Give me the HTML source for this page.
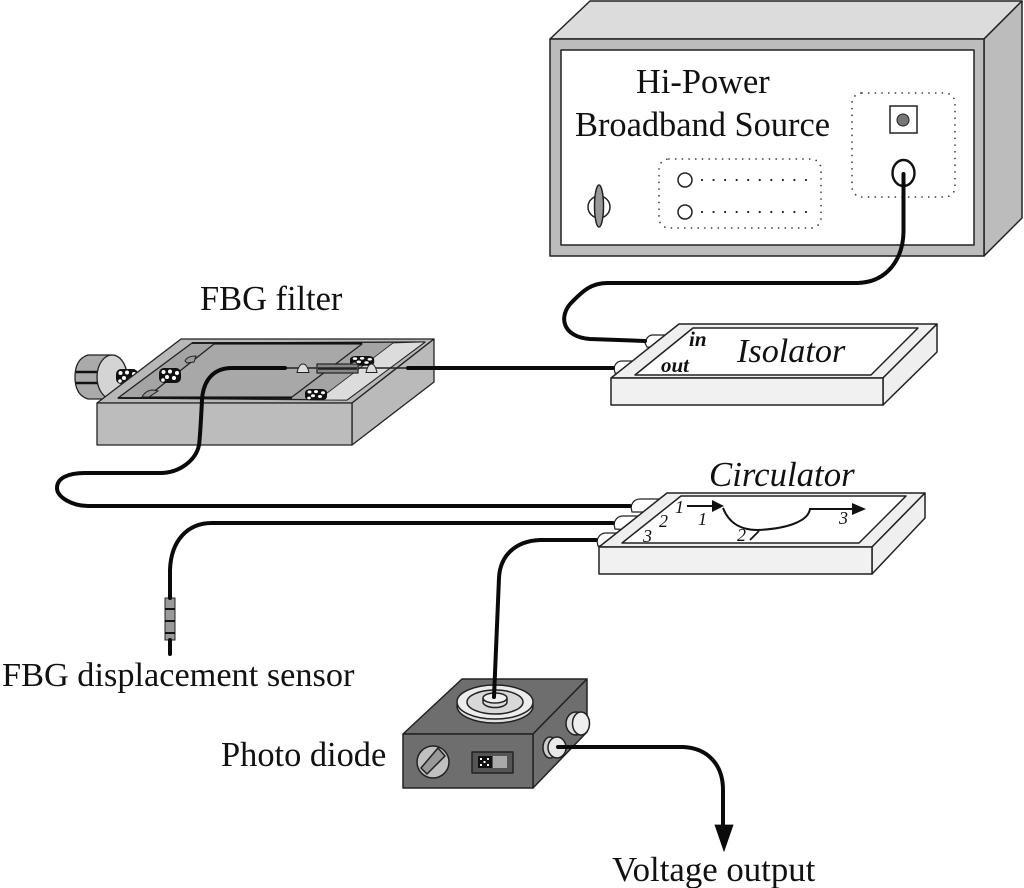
<!DOCTYPE html>
<html>
<head>
<meta charset="utf-8">
<style>
html,body{margin:0;padding:0;background:#fff}
svg{display:block}
text{font-family:"Liberation Serif",serif;fill:#111}
</style>
</head>
<body>
<svg width="1024" height="888" viewBox="0 0 1024 888" xmlns="http://www.w3.org/2000/svg">
<defs>
<g id="beads">
<rect x="0" y="0" width="22" height="15" rx="5" fill="#111"/>
<circle cx="4.500" cy="4" r="2" fill="#fff"/><circle cx="11" cy="3.500" r="2" fill="#fff"/><circle cx="18" cy="5" r="2" fill="#fff"/>
<circle cx="8" cy="9" r="2" fill="#fff"/><circle cx="15" cy="10" r="2" fill="#fff"/><circle cx="4" cy="12" r="1.800" fill="#fff"/>
</g>
</defs>

<!-- Source -->
<g stroke="#222" stroke-width="1.500" stroke-linejoin="round">
<polygon points="550,39 590,1 1022,1 984,39" fill="#dcdcdc"/>
<polygon points="984,39 1022,1 1022,218 984,256" fill="#bcbcbc"/>
<rect x="550" y="39" width="434" height="217" fill="#bcbcbc"/>
<rect x="561" y="50" width="413" height="195" fill="#fff"/>
</g>
<text x="636" y="93" font-size="34.400">Hi-Power</text>
<text x="575" y="136" font-size="34.400">Broadband Source</text>
<rect x="852" y="93" width="103" height="104" rx="10" fill="none" stroke="#444" stroke-width="1.800" stroke-dasharray="0 6.700" stroke-linecap="round"/>
<rect x="659" y="159" width="162" height="69" rx="10" fill="none" stroke="#444" stroke-width="1.800" stroke-dasharray="0 6.700" stroke-linecap="round"/>
<rect x="890" y="106" width="27" height="27" fill="#fff" stroke="#222" stroke-width="1.500"/>
<circle cx="903" cy="120" r="6" fill="#777" stroke="#222" stroke-width="1"/>
<ellipse cx="903.500" cy="173" rx="11" ry="13" fill="#fff" stroke="#111" stroke-width="2.400"/>
<circle cx="685" cy="180" r="7" fill="#fff" stroke="#222" stroke-width="1.500"/>
<circle cx="685" cy="212" r="7" fill="#fff" stroke="#222" stroke-width="1.500"/>
<path d="M702 180H807M702 212H807" stroke="#222" stroke-width="2.200" stroke-linecap="round" stroke-dasharray="0 11.550" fill="none"/>
<circle cx="599" cy="207" r="11" fill="#fff" stroke="#222" stroke-width="1.500"/>
<ellipse cx="599" cy="206" rx="4.500" ry="21" fill="#999" stroke="#222" stroke-width="1.500"/>

<!-- FBG filter -->
<text x="200" y="310" font-size="34.400">FBG filter</text>
<g stroke="#222" stroke-width="1.300" stroke-linejoin="round">
<path d="M88 355H112A15 22 0 0 1 112 399H88Q75 395 75 377Q75 359 88 355Z" fill="#aaa"/>
</g>
<path d="M76 372H106M76 383H106" stroke="#111" stroke-width="2.400"/>
<ellipse cx="112" cy="377" rx="15" ry="22" fill="#d4d4d4" stroke="#222" stroke-width="1.300"/>
<use href="#beads" x="116" y="369"/>
<g stroke="#222" stroke-width="1.300" stroke-linejoin="round">
<polygon points="97,403 181,339 434,339 352,403" fill="#b8b8b8"/>
<polygon points="352,403 434,339 434,382 352,445" fill="#bababa"/>
<rect x="97" y="403" width="255" height="42" fill="#bcbcbc"/>
<polygon points="118,398 192,343 425,342 347,400" fill="#a4a4a4"/>
<polygon points="318,400 393,343 425,342 347,400" fill="#dcdcdc" stroke-width="0.800"/>
<polygon points="147,397 214,344 362,344 292,397" fill="#a8a8a8"/>
</g>
<path d="M118 398H292M192 343H362" stroke="#111" stroke-width="1.800"/>
<use href="#beads" x="159" y="368"/>
<g transform="translate(305 389) scale(1 .75)"><use href="#beads"/></g>
<g transform="translate(350 356) scale(1.100 .65)"><use href="#beads"/></g>
<path d="M142 397Q146 390 153 390L158 391L149 397Z" fill="#9a9a9a" stroke="#222" stroke-width="1"/>
<path d="M185 361Q187 356 196 356L194 362L187 363Z" fill="#9a9a9a" stroke="#222" stroke-width="1"/>
<path d="M285 368H408" stroke="#222" stroke-width="1.400" fill="none"/>
<path d="M297 372.500Q299 364 303 364Q307 364 309 372.500Z" fill="#ddd" stroke="#222" stroke-width="1"/>
<path d="M366 372.500Q368 364 371.500 364Q375 364 377 372.500Z" fill="#ddd" stroke="#222" stroke-width="1"/>
<rect x="317" y="364" width="41" height="9" fill="#888" stroke="#222" stroke-width="1.200"/>
<path d="M318 368.500H357" stroke="#222" stroke-width="2.500"/>

<!-- Isolator -->
<path d="M645 343Q647 335 653 335H672L660 348L647 347Z" fill="#fff" stroke="#222" stroke-width="1.200"/>
<path d="M614 368Q616 361 622 361H640L625 374L615 373Z" fill="#fff" stroke="#222" stroke-width="1.200"/>
<g stroke="#222" stroke-width="1.500" stroke-linejoin="round">
<polygon points="611,378 679,324 937,324 883,378" fill="#efefef"/>
<polygon points="883,378 937,324 937,352 883,405" fill="#efefef"/>
<rect x="611" y="378" width="272" height="27" fill="#f1f1f1"/>
<polygon points="635,375 693,328 918,328 871,375" fill="#fff"/>
</g>
<text x="737" y="362" font-size="34.200" font-style="italic">Isolator</text>
<text x="689" y="346" font-size="21" font-style="italic" font-weight="bold">in</text>
<text x="661" y="372" font-size="21" font-style="italic" font-weight="bold">out</text>

<!-- Circulator -->
<text x="709" y="486" font-size="34.800" font-style="italic">Circulator</text>
<path d="M631 507Q633 499 640 499H660L648 512L632 512Z" fill="#fff" stroke="#222" stroke-width="1.200"/>
<path d="M614 524Q616 516 623 516H642L630 530L615 529Z" fill="#fff" stroke="#222" stroke-width="1.200"/>
<path d="M597 541Q599 533 606 533H624L612 546L598 546Z" fill="#fff" stroke="#222" stroke-width="1.200"/>
<g stroke="#222" stroke-width="1.500" stroke-linejoin="round">
<polygon points="599,547 667,493 925,493 872,547" fill="#efefef"/>
<polygon points="872,547 925,493 925,518 872,574" fill="#efefef"/>
<rect x="599" y="547" width="273" height="27" fill="#f1f1f1"/>
<polygon points="622,543 681,496 906,496 859,543" fill="#fff"/>
</g>
<path d="M687 506H716" stroke="#111" stroke-width="2" fill="none"/>
<polygon points="712,500 724,506 712,512" fill="#111"/>
<path d="M723 508C730 526 745 530 757 530C785 529 808 522 810 509H854" stroke="#111" stroke-width="2" fill="none"/>
<polygon points="852,503 866,509 852,515" fill="#111"/>
<path d="M759 531L750 540" stroke="#111" stroke-width="1.800" fill="none"/>
<g font-size="18" font-style="italic">
<text x="675" y="513">1</text><text x="659" y="527">2</text><text x="643" y="542">3</text>
<text x="698" y="525">1</text><text x="737" y="541">2</text><text x="839" y="524">3</text>
</g>

<!-- Sensor -->
<rect x="165" y="598" width="10" height="42" fill="#999" stroke="#222" stroke-width="1"/>
<path d="M165 609H175M165 621H175M165 633H175" stroke="#111" stroke-width="2"/>
<text x="2" y="686" font-size="34.300">FBG displacement sensor</text>

<!-- Photo diode -->
<g stroke="#222" stroke-width="1.500" stroke-linejoin="round">
<polygon points="403,734 462,679 587,679 533,734" fill="#6e6e6e"/>
<polygon points="533,734 587,679 587,732 533,788" fill="#6e6e6e"/>
<rect x="403" y="734" width="130" height="54" fill="#6e6e6e"/>
<ellipse cx="495" cy="706" rx="38" ry="17" fill="#e0e0e0"/>
<ellipse cx="495" cy="702" rx="38" ry="17" fill="#ececec"/>
<ellipse cx="495" cy="702" rx="28" ry="12" fill="#d8d8d8"/>
<path d="M483 698V702A12 5.500 0 0 0 507 702V698" fill="#ddd"/>
<ellipse cx="495" cy="698" rx="12" ry="5" fill="#eee"/>
<ellipse cx="576" cy="723.500" rx="10" ry="11.500" fill="#ddd"/>
<ellipse cx="581" cy="723.500" rx="8.500" ry="11.500" fill="#eee"/>
<ellipse cx="550" cy="747.500" rx="7" ry="10.500" fill="#ccc"/>
<ellipse cx="557" cy="747.500" rx="9" ry="10.500" fill="#e8e8e8"/>
<circle cx="433" cy="762" r="16" fill="#c0c0c0"/>
<polygon points="421,768 438,748 445,756 427,774" fill="#999"/>
<rect x="472" y="752" width="41" height="21" fill="#555"/>
</g>
<rect x="478" y="756" width="14" height="12" fill="#111"/>
<path d="M480 759h2M487 759h2M480 765h2M487 765h2M483.500 762h2" stroke="#fff" stroke-width="2"/>
<rect x="493" y="756" width="14" height="12" fill="#aaa"/>
<text x="221" y="766" font-size="34.400">Photo diode</text>

<!-- Cables -->
<g fill="none" stroke="#0a0a0a" stroke-linecap="round" stroke-linejoin="round" stroke-width="4">
<path d="M903.500 174V232C903 258 888 282 858 283H607C590 283 581 293 572 302C558 316 562 337 590 339L645 341"/>
<path d="M613 368H408"/>
<path d="M285 368H232C212 368 203 382 202 400C201 420 200 438 199 445C196 460 180 473 160 473H85C68 473 57 478 57 488C57 497 72 506 88 506H630"/>
<path d="M613 523H212C188 523 171 540 170 570V598M170 640V654"/>
<path d="M596 540H540C515 541 500 556 499 578L494 697"/>
<path d="M558 747H683C708 748 723 765 723 790V826"/>
</g>
<polygon points="715,825 733,825 724,851" fill="#0a0a0a" stroke="#0a0a0a" stroke-width="0.800"/>
<text x="612" y="881" font-size="34.800">Voltage output</text>
</svg>
</body>
</html>
